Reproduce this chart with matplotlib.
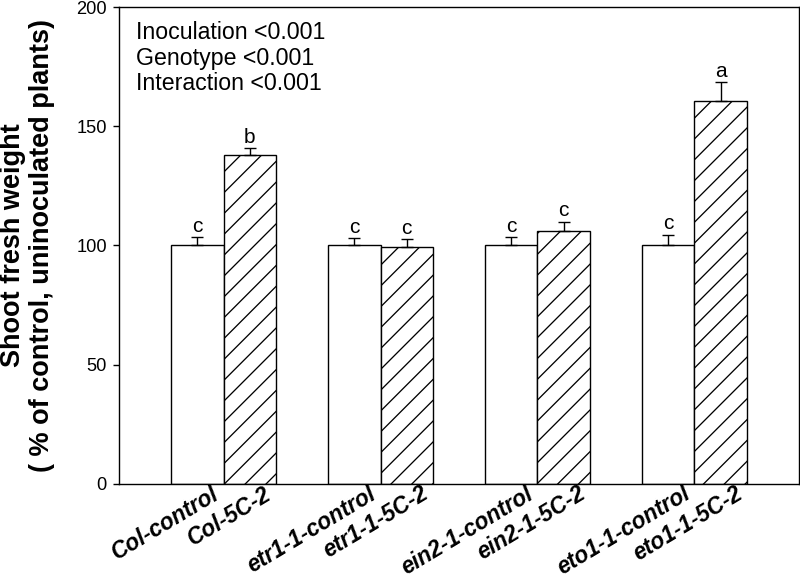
import matplotlib
matplotlib.use('Agg')
import matplotlib.pyplot as plt
import matplotlib.transforms as mtrans
import numpy as np

labels = ["Col-control", "Col-5C-2", "etr1-1-control", "etr1-1-5C-2",
          "ein2-1-control", "ein2-1-5C-2", "eto1-1-control", "eto1-1-5C-2"]
means = [100, 137.8, 100, 99.2, 100, 106, 100, 160.7]
errors = [3.4, 3.0, 3.0, 3.5, 3.5, 4.0, 4.5, 7.7]
letters = ['c', 'b', 'c', 'c', 'c', 'c', 'c', 'a']
inoculated = [False, True] * 4
stats_lines = ["Inoculation <0.001", "Genotype <0.001", "Interaction <0.001"]
yticks = [0, 50, 100, 150, 200]

plt.rcParams['font.family'] = ['Liberation Sans', 'DejaVu Sans']
plt.rcParams['hatch.linewidth'] = 0.75

DPI = 125
fig = plt.figure(figsize=(800 / DPI, 578 / DPI), dpi=DPI)
ax = fig.add_axes([119 / 800, 94 / 578, 680 / 800, 477 / 578])

x = np.array([1.5 + 3 * (i // 2) + (i % 2) for i in range(len(means))])
for xi, m, inoc in zip(x, means, inoculated):
    ax.bar(xi, m, width=1.0, facecolor='white', edgecolor='black',
           linewidth=0.8, hatch='//' if inoc else None, zorder=2)

ax.errorbar(x, means, yerr=[np.zeros(len(means)), errors], fmt='none',
            ecolor='black', elinewidth=0.8, capsize=3.7, capthick=0.8, zorder=3)

for xi, m, e, l in zip(x, means, errors, letters):
    ax.annotate(l, (xi, m + e), xytext=(0, 3.2), textcoords='offset points',
                ha='center', va='baseline', fontsize=12)

for frac, line in zip([0.933, 0.878, 0.826], stats_lines):
    ax.text(0.025, frac, line, transform=ax.transAxes, ha='left',
            va='baseline', fontsize=13.3)

ax.set_xlim(0, 13)
ax.set_ylim(0, 200)
ax.set_yticks(yticks)
ax.set_yticklabels([str(t) for t in yticks])
ax.tick_params(axis='y', direction='out', length=3.5, width=0.8,
               labelsize=10.5, pad=3.5)
ax.set_xticks(x)
ax.set_xticklabels(labels, rotation=31, ha='right', va='center',
                   rotation_mode='anchor', fontsize=13,
                   fontweight='bold', fontstyle='italic')
ax.tick_params(axis='x', length=0, pad=0)
offset = mtrans.ScaledTranslation(20 / DPI, -8 / DPI, fig.dpi_scale_trans)
for lab in ax.get_xticklabels():
    lab.set_transform(lab.get_transform() + offset)

for s in ax.spines.values():
    s.set_linewidth(0.8)

ax.set_ylabel("Shoot fresh weight\n( % of control, uninoculated plants)",
              fontsize=15.6, fontweight='bold', linespacing=1.15)
ax.yaxis.set_label_coords(-0.094, 0.5)

fig.savefig('out.png', dpi=DPI)
